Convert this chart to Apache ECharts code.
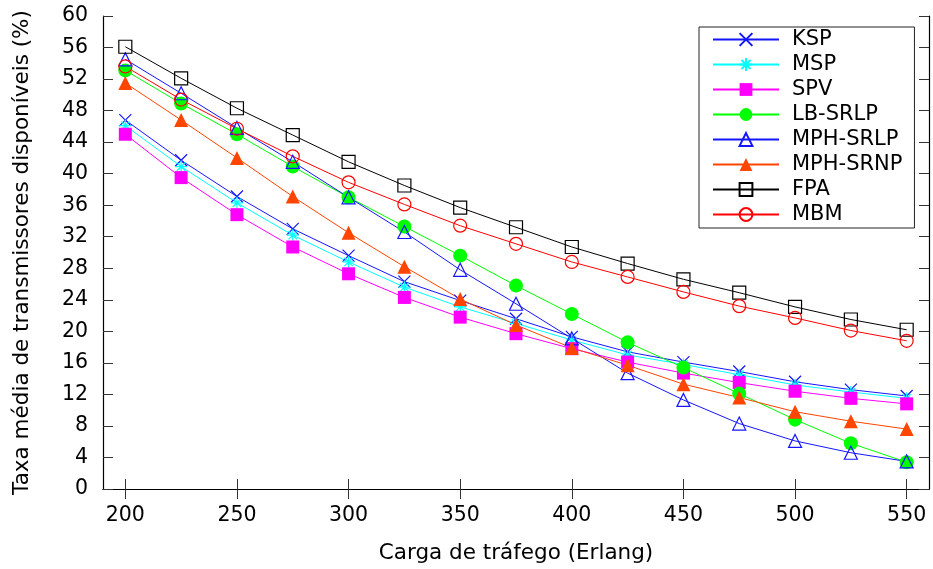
<!DOCTYPE html>
<html>
<head>
<meta charset="utf-8">
<script src="https://cdn.jsdelivr.net/npm/echarts@6/dist/echarts.min.js"></script>
<style>
html,body{margin:0;padding:0;background:#fff;}
#chart{width:933px;height:569px;}
</style>
</head>
<body>
<div id="chart"></div>
<script>
const loads = [200,225,250,275,300,325,350,375,400,425,450,475,500,525,550];
const xTickLabels = [200,250,300,350,400,450,500,550];
const yTickLabels = [0,4,8,12,16,20,24,28,32,36,40,44,48,52,56,60];

const KSP      = [46.8, 41.7, 37.1, 33.0, 29.6, 26.3, 23.9, 21.6, 19.3, 17.4, 16.1, 14.9, 13.6, 12.6, 11.8];
const MSP      = [46.1, 40.9, 36.3, 32.2, 28.8, 25.6, 23.1, 21.0, 18.9, 17.0, 15.8, 14.5, 13.2, 12.3, 11.5];
const SPV      = [45.0, 39.5, 34.8, 30.7, 27.3, 24.3, 21.8, 19.7, 17.8, 16.1, 14.7, 13.5, 12.4, 11.5, 10.8];
const LB_SRLP  = [53.1, 48.9, 45.0, 40.9, 37.0, 33.3, 29.6, 25.8, 22.2, 18.6, 15.4, 12.1, 8.8, 5.8, 3.4];
const MPH_SRLP = [54.5, 50.2, 45.8, 41.5, 37.0, 32.6, 27.8, 23.5, 19.1, 14.7, 11.3, 8.3, 6.1, 4.6, 3.5];
const MPH_SRNP = [51.5, 46.8, 42.0, 37.1, 32.5, 28.2, 24.1, 20.8, 17.9, 15.7, 13.3, 11.6, 9.8, 8.6, 7.6];
const FPA      = [56.1, 52.1, 48.3, 44.9, 41.5, 38.5, 35.7, 33.2, 30.7, 28.6, 26.6, 24.9, 23.1, 21.5, 20.2];
const MBM      = [53.6, 49.4, 45.7, 42.2, 38.9, 36.1, 33.4, 31.1, 28.8, 26.9, 25.0, 23.2, 21.7, 20.1, 18.8];

const seriesNames = ['KSP','MSP','SPV','LB-SRLP','MPH-SRLP','MPH-SRNP','FPA','MBM'];
const seriesValues = [KSP, MSP, SPV, LB_SRLP, MPH_SRLP, MPH_SRNP, FPA, MBM];

const FONT = 'DejaVu Sans';
const styles = [
  {color:'#1515ff', symbol:'path://M0,0L10,10M0,10L10,0', size:12, hollow:true},
  {color:'#00ffff', symbol:'path://M5,0L5,10M0,5L10,5M1.5,1.5L8.5,8.5M1.5,8.5L8.5,1.5', size:12, hollow:true},
  {color:'#ff00ff', symbol:'rect', size:13, hollow:false},
  {color:'#00ff00', symbol:'circle', size:14, hollow:false},
  {color:'#1515ff', symbol:'triangle', size:13, hollow:true},
  {color:'#ff4500', symbol:'triangle', size:14, hollow:false},
  {color:'#000000', symbol:'rect', size:13, hollow:true},
  {color:'#ff0000', symbol:'circle', size:13, hollow:true}
];

const series = seriesNames.map((name, i) => {
  const s = styles[i];
  return {
    name: name,
    type: 'line',
    xAxisIndex: 0,
    yAxisIndex: 0,
    data: loads.map((x, j) => [x, seriesValues[i][j]]),
    symbol: s.symbol,
    symbolSize: s.size,
    showAllSymbol: true,
    lineStyle: {color: s.color, width: 1},
    itemStyle: s.hollow
      ? {color: 'rgba(0,0,0,0)', borderColor: s.color, borderWidth: 1.2}
      : {color: s.color, borderWidth: 0},
    emphasis: {disabled: true}
  };
});

const axisLineStyle = {show: true, lineStyle: {color: '#000', width: 1.2}};
const tickStyle = {color: '#333', width: 1};

const option = {
  animation: false,
  backgroundColor: '#ffffff',
  grid: {left: 103, right: 4, top: 16, bottom: 80, containLabel: false},
  legend: {
    orient: 'vertical',
    left: 699,
    top: 27,
    backgroundColor: '#fff',
    borderColor: '#222',
    borderWidth: 1,
    borderRadius: 0,
    padding: [2, 12, 3, 13],
    itemWidth: 66,
    itemHeight: 16,
    itemGap: 4,
    textStyle: {fontFamily: FONT, fontSize: 21, color: '#000', lineHeight: 21, padding: [0, 0, 0, 8]},
    data: seriesNames
  },
  xAxis: [
    {
      type: 'value', min: 190, max: 560, position: 'bottom',
      axisLine: axisLineStyle,
      axisTick: {show: true, inside: true, length: 10, lineStyle: tickStyle, customValues: xTickLabels},
      axisLabel: {customValues: xTickLabels, margin: 16, fontFamily: FONT, fontSize: 20.5, color: '#000'},
      splitLine: {show: false},
      name: 'Carga de tráfego (Erlang)', nameLocation: 'middle', nameGap: 53,
      nameTextStyle: {fontFamily: FONT, fontSize: 21.5, color: '#000'}
    },
    {
      type: 'value', min: 190, max: 560, position: 'top',
      axisLine: axisLineStyle,
      axisTick: {show: true, inside: true, length: 10, lineStyle: tickStyle, customValues: xTickLabels},
      axisLabel: {show: false},
      splitLine: {show: false}
    }
  ],
  yAxis: [
    {
      type: 'value', min: 0, max: 60, interval: 4, position: 'left',
      axisLine: axisLineStyle,
      axisTick: {show: true, inside: true, length: 10, lineStyle: tickStyle},
      axisLabel: {margin: 15, fontFamily: FONT, fontSize: 20.5, color: '#000',
        formatter: v => yTickLabels.includes(v) ? String(v) : ''},
      splitLine: {show: false},
      name: 'Taxa média de transmissores disponíveis (%)', nameLocation: 'middle', nameGap: 70,
      nameTextStyle: {fontFamily: FONT, fontSize: 21.5, color: '#000'}
    },
    {
      type: 'value', min: 0, max: 60, interval: 4, position: 'right',
      axisLine: axisLineStyle,
      axisTick: {show: true, inside: true, length: 10, lineStyle: tickStyle},
      axisLabel: {show: false},
      splitLine: {show: false}
    }
  ],
  series: series
};

const chart = echarts.init(document.getElementById('chart'), null, {renderer: 'canvas'});
chart.setOption(option);
</script>
</body>
</html>
